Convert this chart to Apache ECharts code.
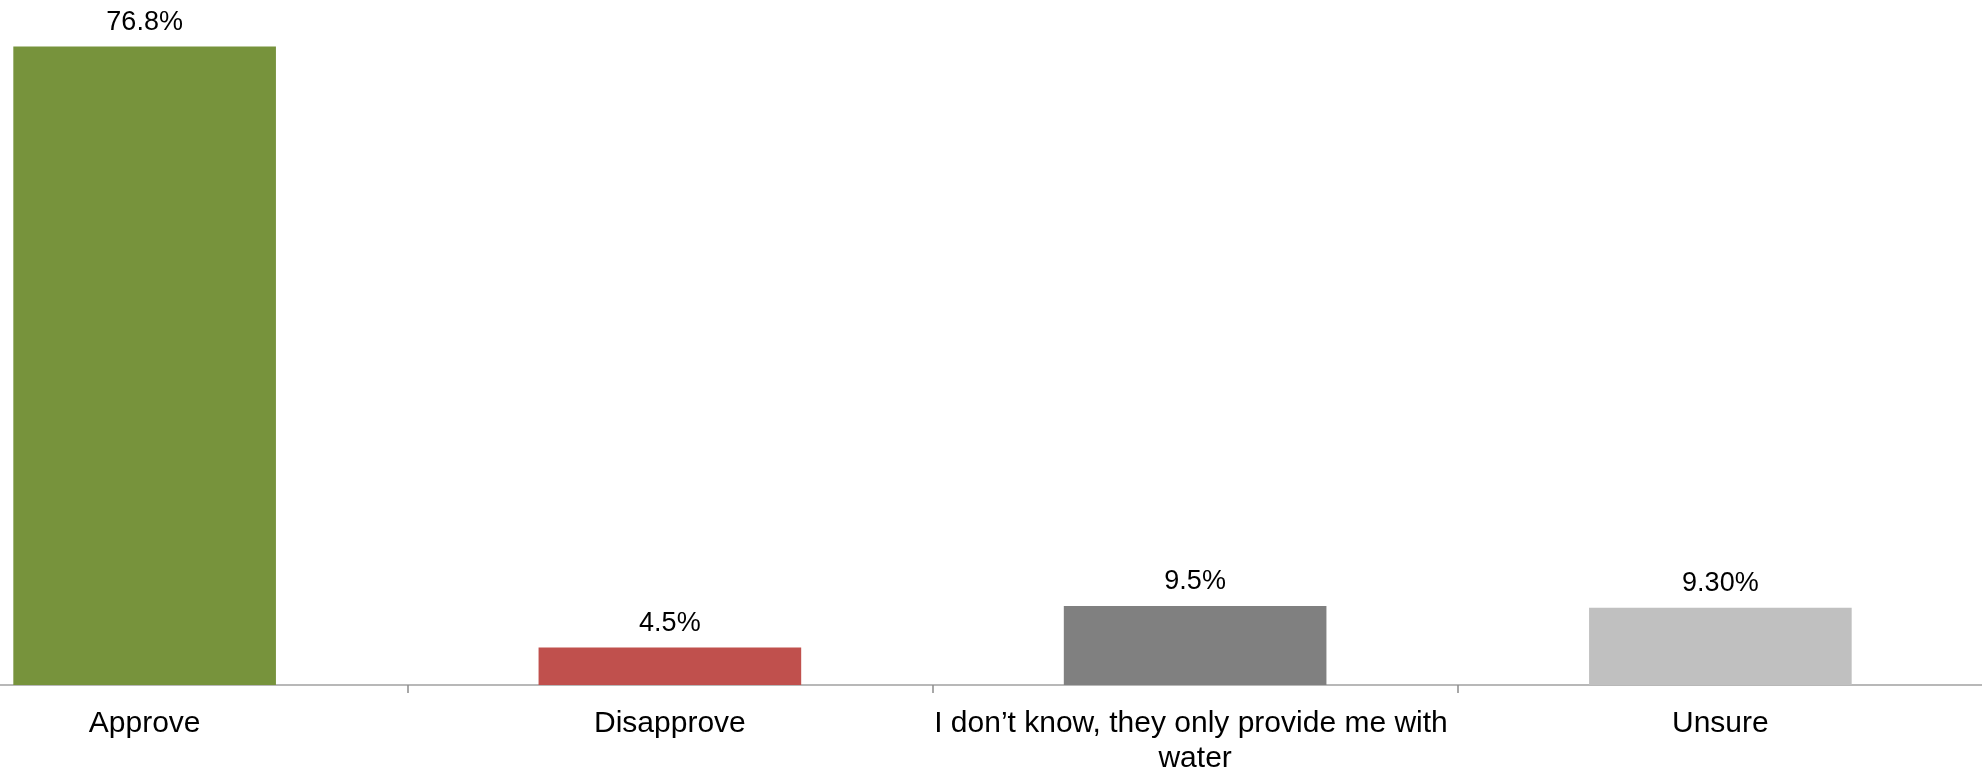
<!DOCTYPE html>
<html>
<head>
<meta charset="utf-8">
<script src="https://cdn.jsdelivr.net/npm/echarts@6/dist/echarts.min.js"></script>
<style>
html,body{margin:0;padding:0;background:#fff;}
#chart{width:1982px;height:771px;}
</style>
</head>
<body>
<div id="chart"></div>
<script>
const categories = ['Approve', 'Disapprove', 'I don\u2019t know, they only provide me with water', 'Unsure'];
const values = [76.8, 4.5, 9.5, 9.3];
const valueLabels = ['76.8%', '4.5%', '9.5%', '9.30%'];
const barColors = ['#77933C', '#C0504D', '#808080', '#C0C0C0'];

const chart = echarts.init(document.getElementById('chart'));
chart.setOption({
  backgroundColor: '#ffffff',
  animation: false,
  grid: { left: -118, right: -1, top: 20, bottom: 86, containLabel: false, outerBoundsMode: 'none' },
  xAxis: {
    type: 'category',
    data: categories,
    axisLine: { show: true, lineStyle: { color: '#a0a0a0', width: 1.5 } },
    axisTick: { show: true, alignWithLabel: false, length: 8, lineStyle: { color: '#8c8c8c', width: 1.5 } },
    axisLabel: {
      interval: 0,
      margin: 21,
      color: '#000',
      fontFamily: 'Liberation Sans, Arial, sans-serif',
      fontSize: 30,
      lineHeight: 35,
      width: 560,
      overflow: 'break'
    }
  },
  yAxis: {
    type: 'value',
    min: 0, max: 80,
    show: false,
    splitLine: { show: false }
  },
  series: [{
    type: 'bar',
    barWidth: '50%',
    data: values.map((v, i) => ({ value: v, itemStyle: { color: barColors[i] } })),
    label: {
      show: true,
      position: 'top',
      distance: 11,
      color: '#000',
      fontFamily: 'Liberation Sans, Arial, sans-serif',
      fontSize: 27,
      formatter: p => valueLabels[p.dataIndex]
    }
  }]
});
</script>
</body>
</html>
